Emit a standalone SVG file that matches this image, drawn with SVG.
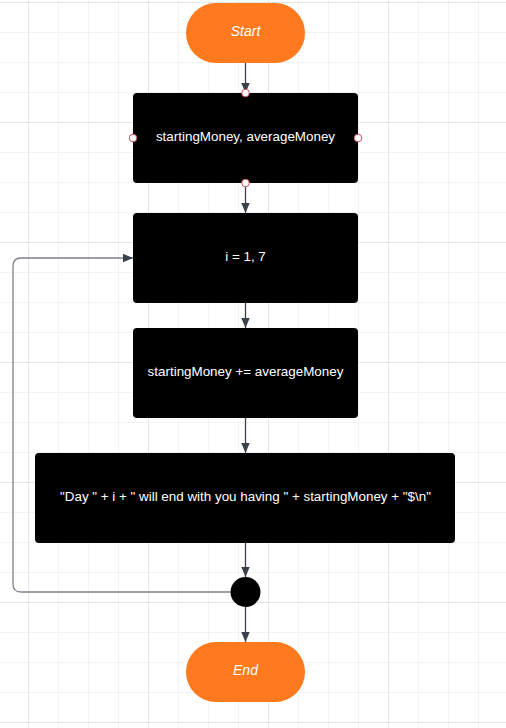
<svg xmlns="http://www.w3.org/2000/svg" width="506" height="728" viewBox="0 0 506 728">
<defs>
<pattern id="minor" width="30" height="30" patternUnits="userSpaceOnUse" x="28" y="2">
<path d="M0 0H30M0 0V30" fill="none" stroke="#e8e8e8" stroke-width="1"/>
</pattern>
<pattern id="major" width="120" height="120" patternUnits="userSpaceOnUse" x="28" y="2">
<path d="M0 0H120M0 0V120" fill="none" stroke="#d8d8d8" stroke-width="1"/>
</pattern>
<marker id="arr" viewBox="0 0 10 10" refX="10" refY="5" markerWidth="10" markerHeight="10" markerUnits="userSpaceOnUse" orient="auto">
<path d="M0 0.8L10 5L0 9.2Z" fill="#3a414a"/>
</marker>
</defs>
<style>
.term{fill:#ff7a1e}
.box{fill:#000}
.t{font-family:"Liberation Sans",Arial,sans-serif;font-size:13.4px;fill:#fff;text-anchor:middle;dominant-baseline:central}
.ti{font-style:italic;font-size:14px}
.c{fill:none;stroke:#3a414a;stroke-width:1.3}
.loop{fill:none;stroke:#7d828a;stroke-width:1.3}
.pt{fill:#fff;stroke:#d0505a;stroke-width:1}
</style>
<rect width="506" height="728" fill="#fff"/>
<rect width="506" height="728" fill="url(#minor)"/>
<rect width="506" height="728" fill="url(#major)"/>
<g id="connectors">
<path class="c" d="M245.5 63V93" marker-end="url(#arr)"/>
<path class="c" d="M245.5 183V213" marker-end="url(#arr)"/>
<path class="c" d="M245.5 303V328" marker-end="url(#arr)"/>
<path class="c" d="M245.5 418V453" marker-end="url(#arr)"/>
<path class="c" d="M245.5 543V577" marker-end="url(#arr)"/>
<path class="c" d="M245.5 607V642" marker-end="url(#arr)"/>
<path class="loop" d="M230.5 592H21Q13 592 13 584V266Q13 258 21 258H133" marker-end="url(#arr)"/>
</g>
<g id="start">
<rect class="term" x="186" y="3" width="119" height="60" rx="30"/>
<text class="t ti" x="245.5" y="31">Start</text>
</g>
<g id="input">
<rect class="box" x="133" y="93" width="225" height="90" rx="4"/>
<text class="t" x="245.5" y="136">startingMoney, averageMoney</text>
<circle class="pt" cx="245.5" cy="93" r="3.8"/>
<circle class="pt" cx="133" cy="138" r="3.8"/>
<circle class="pt" cx="358" cy="138" r="3.8"/>
<circle class="pt" cx="245.5" cy="183" r="3.8"/>
</g>
<g id="loopbox">
<rect class="box" x="133" y="213" width="225" height="90" rx="4"/>
<text class="t" x="245.5" y="256">i = 1, 7</text>
</g>
<g id="update">
<rect class="box" x="133" y="328" width="225" height="90" rx="4"/>
<text class="t" x="245.5" y="371">startingMoney += averageMoney</text>
</g>
<g id="output">
<rect class="box" x="35" y="453" width="420" height="90" rx="4"/>
<text class="t" x="245.5" y="496">"Day " + i + " will end with you having " + startingMoney + "$\n"</text>
</g>
<g id="merge">
<circle cx="245.5" cy="592" r="15" fill="#000"/>
</g>
<g id="end">
<rect class="term" x="186" y="642" width="119" height="60" rx="30"/>
<text class="t ti" x="245.5" y="670">End</text>
</g>
</svg>
